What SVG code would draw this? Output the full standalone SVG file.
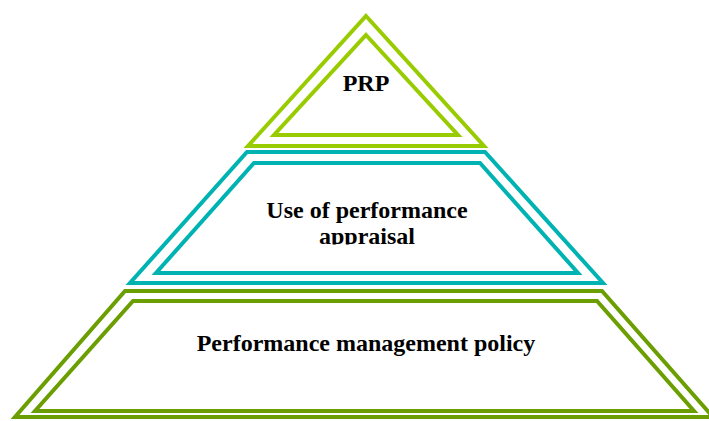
<svg xmlns="http://www.w3.org/2000/svg" width="709" height="421" viewBox="0 0 709 421">
<style>
.s{fill:none;stroke-width:4;stroke-linejoin:miter;stroke-miterlimit:10}
.g1{stroke:#99cc00}
.t{stroke:#00b3b3}
.g2{stroke:#6b9e00}
.lbl{font-family:"Liberation Serif","Times New Roman",serif;font-weight:bold;font-size:24px;fill:#000;text-anchor:middle}
</style>
<defs>
<clipPath id="clipMid"><rect x="150" y="170" width="430" height="74.5"/></clipPath>
</defs>
<rect width="709" height="421" fill="#fff"/>
<g id="top">
<polygon class="s g1" points="366,16 484,146 248,146"/>
<polygon class="s g1" points="366,35 458,135 274,135"/>
<text class="lbl" x="366" y="90.5">PRP</text>
</g>
<g id="middle">
<polygon class="s t" points="247,152 485,152 603,283 130,283"/>
<polygon class="s t" points="254,163 480,163 578,273 156,273"/>
<g clip-path="url(#clipMid)">
<text class="lbl" x="367" y="217.5">Use of performance</text>
<text class="lbl" x="367" y="244">appraisal</text>
</g>
</g>
<g id="bottom">
<polygon class="s g2" points="125,291 602,291 713,417 15,417"/>
<polygon class="s g2" points="133,301 597,301 694,411 35,411"/>
<text class="lbl" x="366" y="350.5">Performance management policy</text>
</g>
<g id="connectors"/>
</svg>
